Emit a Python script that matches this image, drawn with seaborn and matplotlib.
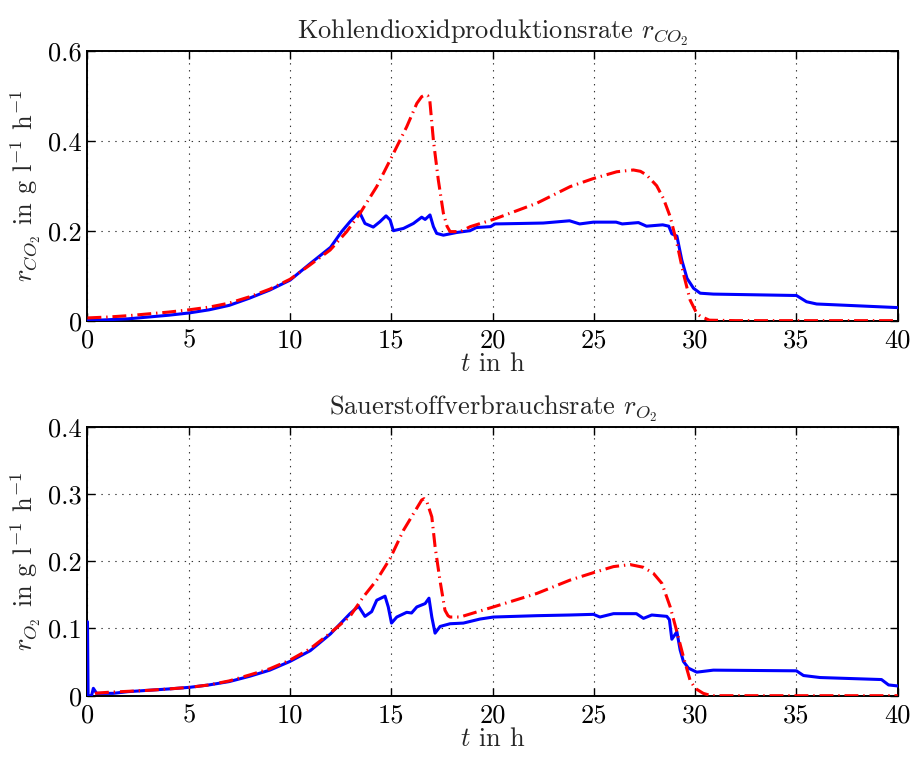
import numpy as np
import pandas as pd
import matplotlib
matplotlib.use("Agg")
import matplotlib.pyplot as plt
import seaborn as sns

# --- CO2 production rate (top panel) ---
t_co2_meas = [0, 1, 2, 3, 4, 5, 6, 7, 8, 9, 10, 11, 12, 12.55, 12.96, 13.42,
              13.7, 14.11, 14.44, 14.74, 14.94, 15.1, 15.6, 16.09, 16.5, 16.67,
              16.91, 17.08, 17.24, 17.57, 18.23, 18.89, 19.2, 19.9, 20.12, 21.36,
              22.5, 23.8, 24.3, 24.98, 26.1, 26.4, 27.2, 27.6, 28.4, 28.7, 28.85,
              29.1, 29.34, 29.6, 29.92, 30.25, 30.9, 34.85, 35.0, 35.5, 36.0, 38.0, 40.0]
r_co2_meas = [0.0, 0.002, 0.004, 0.008, 0.012, 0.017, 0.024, 0.034, 0.05, 0.068,
              0.09, 0.127, 0.163, 0.198, 0.22, 0.242,
              0.216, 0.208, 0.22, 0.233, 0.224, 0.20, 0.205, 0.216, 0.23, 0.225,
              0.235, 0.209, 0.194, 0.19, 0.196, 0.20, 0.207, 0.209, 0.215, 0.216,
              0.217, 0.222, 0.215, 0.219, 0.219, 0.215, 0.218, 0.21, 0.213, 0.21, 0.193,
              0.188, 0.135, 0.094, 0.072, 0.061, 0.059, 0.056, 0.056, 0.042, 0.037, 0.033, 0.029]

t_co2_model = [0, 1, 2, 3, 4, 5, 6, 7, 8, 9, 10, 10.99, 11.98, 12.8, 13.46, 14.28,
               15.02, 15.76, 16.26, 16.5, 16.67, 16.8, 16.9, 17.08, 17.32, 17.57, 17.75,
               17.9, 18.4, 18.9, 20.04, 22.18, 23.83, 24.98, 26.13, 26.95, 27.3, 27.6,
               28.1, 28.43, 28.77, 29.1, 29.42, 29.75, 30.08, 30.25, 30.7, 32.0, 40.0]
r_co2_model = [0.006, 0.008, 0.011, 0.015, 0.019, 0.024, 0.030, 0.039, 0.053, 0.070,
               0.092, 0.124, 0.157, 0.198, 0.239, 0.298,
               0.364, 0.431, 0.483, 0.498, 0.502, 0.50, 0.49, 0.40, 0.313, 0.239, 0.21,
               0.198, 0.198, 0.209, 0.225, 0.261, 0.298, 0.316, 0.331, 0.335, 0.332, 0.324,
               0.30, 0.272, 0.231, 0.172, 0.105, 0.046, 0.016, 0.010, 0.001, 0.0, 0.0]

# --- O2 uptake rate (bottom panel) ---
t_o2_meas = [0, 0.03, 0.2, 0.29, 0.45, 1.27, 2, 3, 4, 5.06, 6, 7, 8.02, 9, 10, 11,
             12, 12.96, 13.38, 13.7, 14.03, 14.28, 14.69, 14.85, 15.01, 15.27, 15.76,
             16.0, 16.26, 16.67, 16.86, 17.0, 17.16, 17.41, 17.9, 18.56, 19.38, 20.04,
             22.18, 23.8, 24.98, 25.3, 25.97, 27.1, 27.45, 27.86, 28.6, 28.73, 28.85,
             29.1, 29.26, 29.42, 29.67, 30.08, 30.9, 35.0, 35.35, 36.17, 39.2, 39.55, 40.0]
r_o2_meas = [0.11, 0.0, 0.0, 0.011, 0.0035, 0.0035, 0.006, 0.008, 0.010, 0.0125, 0.016,
             0.021, 0.029, 0.038, 0.051, 0.067,
             0.092, 0.122, 0.133, 0.118, 0.125, 0.142, 0.148, 0.132, 0.108, 0.117, 0.124,
             0.123, 0.132, 0.137, 0.145, 0.117, 0.093, 0.103, 0.107, 0.108, 0.114, 0.117,
             0.119, 0.120, 0.121, 0.117, 0.122, 0.122, 0.115, 0.120, 0.118, 0.113, 0.084,
             0.095, 0.068, 0.051, 0.041, 0.035, 0.038, 0.037, 0.030, 0.027, 0.024, 0.016, 0.0145]

t_o2_model = [0.37, 1, 2, 3, 4, 5.06, 6, 7, 8.02, 9, 10.0, 11, 11.98, 12.96, 13.62,
              14.28, 14.94, 15.6, 16.1, 16.5, 16.62, 16.75, 17.0, 17.16, 17.4, 17.65,
              17.8, 17.9, 18.4, 19.05, 20.04, 22.18, 23.83, 24.98, 25.97, 26.79, 27.44,
              27.94, 28.36, 28.77, 29.1, 29.42, 29.75, 30.0, 30.4, 30.8, 40.0]
r_o2_model = [0.0036, 0.005, 0.0065, 0.008, 0.010, 0.0125, 0.016, 0.022, 0.031, 0.040,
              0.053, 0.070, 0.093, 0.118, 0.147,
              0.172, 0.204, 0.246, 0.271, 0.291, 0.293, 0.289, 0.266, 0.222, 0.172, 0.127,
              0.119, 0.117, 0.117, 0.123, 0.132, 0.152, 0.172, 0.183, 0.192, 0.195, 0.191,
              0.182, 0.167, 0.132, 0.095, 0.058, 0.023, 0.011, 0.0035, 0.0, 0.0]

x_ticks = [0, 5, 10, 15, 20, 25, 30, 35, 40]
co2_ticks = [0, 0.2, 0.4, 0.6]
o2_ticks = [0, 0.1, 0.2, 0.3, 0.4]
co2_ticklabels = ["0", "0.2", "0.4", "0.6"]
o2_ticklabels = ["0", "0.1", "0.2", "0.3", "0.4"]

sns.set_theme(style="white")
plt.rcParams.update({
    "font.family": "serif",
    "font.serif": ["cmr10", "DejaVu Serif"],
    "mathtext.fontset": "cm",
    "axes.formatter.use_mathtext": True,
    "font.size": 19,
    "lines.scale_dashes": False,
})

fig = plt.figure(figsize=(9.16, 7.58), dpi=100)
ax1 = fig.add_axes([0.0955, 0.577, 0.8845, 0.356])
ax2 = fig.add_axes([0.0955, 0.0822, 0.8845, 0.3548])

dashdot = (0, (10, 3.5, 1.0, 3.5))
FS = 19


def draw_panel(ax, t_meas, r_meas, t_model, r_model, yticks, yticklabels, title, ylabel):
    meas = pd.DataFrame({"t": t_meas, "r": r_meas})
    model = pd.DataFrame({"t": t_model, "r": r_model})
    sns.lineplot(data=meas, x="t", y="r", ax=ax, color="#0000ff", linewidth=2.2,
                 estimator=None, sort=False, zorder=3)
    sns.lineplot(data=model, x="t", y="r", ax=ax, color="#ff0000", linewidth=2.2,
                 estimator=None, sort=False, linestyle=dashdot, zorder=4)
    ax.set_xlim(0, 40)
    ax.set_ylim(yticks[0], yticks[-1])
    ax.set_xticks(x_ticks)
    ax.set_xticklabels([str(v) for v in x_ticks])
    ax.set_yticks(yticks)
    ax.set_yticklabels(yticklabels)
    ax.grid(True, linestyle=(0, (1, 4)), color="#333333", linewidth=0.8)
    ax.tick_params(direction="in", length=6, width=1.0, top=True, right=True,
                   bottom=True, left=True, labelsize=FS, colors="black")
    ax.tick_params(axis="x", pad=6)
    ax.tick_params(axis="y", pad=4)
    for sp in ax.spines.values():
        sp.set_color("black")
        sp.set_linewidth(1.4)
    ax.set_title(title, fontsize=FS, pad=9)
    ax.set_xlabel(r"$t$ in h", fontsize=FS, labelpad=0)
    ax.set_ylabel(ylabel, fontsize=FS, labelpad=4)


draw_panel(ax1, t_co2_meas, r_co2_meas, t_co2_model, r_co2_model, co2_ticks,
           co2_ticklabels, r"Kohlendioxidproduktionsrate $r_{CO_2}$",
           r"$r_{CO_2}$ in g l$^{-1}$ h$^{-1}$")
draw_panel(ax2, t_o2_meas, r_o2_meas, t_o2_model, r_o2_model, o2_ticks,
           o2_ticklabels, r"Sauerstoffverbrauchsrate $r_{O_2}$",
           r"$r_{O_2}$ in g l$^{-1}$ h$^{-1}$")

fig.savefig("out.png", dpi=100)
